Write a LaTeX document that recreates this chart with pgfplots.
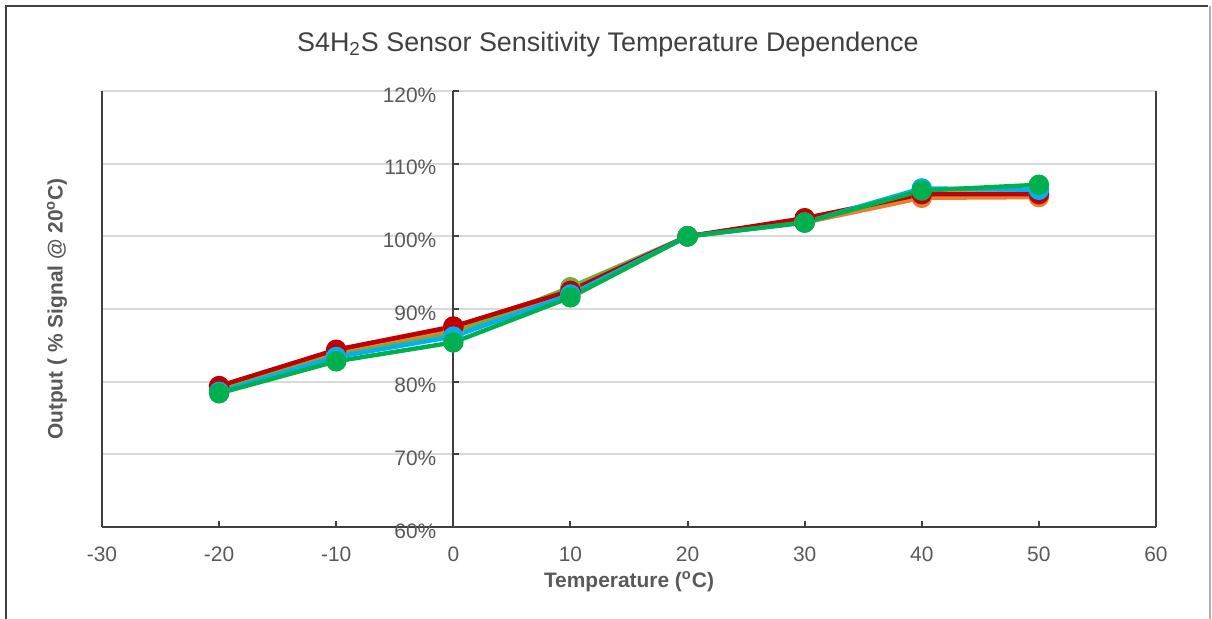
\documentclass[border=0pt]{standalone}
\usepackage{fontspec}
\setmainfont{Liberation Sans}
\usepackage{pgfplots}
\pgfplotsset{compat=1.18}

\definecolor{sred}{HTML}{C00000}
\definecolor{sbrown}{HTML}{9E480E}
\definecolor{sorange}{HTML}{ED7D31}
\definecolor{solive}{HTML}{70AD47}
\definecolor{sblue}{HTML}{00B0F0}
\definecolor{sgreen}{HTML}{00B050}
\definecolor{txt}{HTML}{595959}
\definecolor{axl}{HTML}{404040}
\definecolor{gridc}{HTML}{D9D9D9}

\begin{document}
\begin{tikzpicture}
\path[use as bounding box] (-51bp,-46bp) rectangle (555bp,263.5bp);
\begin{axis}[
  at={(0,0)}, anchor=south west,
  scale only axis,
  width=527bp, height=218bp,
  xmin=-30, xmax=60,
  ymin=60, ymax=120,
  clip=false,
  axis x line=bottom,
  axis y line=middle,
  x axis line style={-},
  y axis line style={-},
  axis line style={axl, line width=1bp},
  xtick={-30,-20,...,60},
  xticklabels={-30,-20,-10,0,10,20,30,40,50,60},
  ytick={60,70,...,120},
  yticklabel={\pgfmathprintnumber{\tick}\%},
  /pgf/number format/assume math mode=true,
  hide obscured y ticks=false,
  hide obscured x ticks=false,
  xtick align=inside,
  ytick align=inside,
  major tick length=3bp,
  tick style={axl, line width=1bp},
  ticklabel style={font=\fontsize{10.5}{12}\selectfont, text=txt},
  xticklabel style={yshift=-6.5bp},
  yticklabel style={yshift=-2bp, xshift=-5bp},
  ymajorgrids,
  grid style={gridc, line width=1bp},
  every axis x label/.style={at={(axis description cs:0.5,-0.1216)}, anchor=center, yshift=-1bp},
  every axis y label/.style={at={(axis description cs:-0.0427,0.5)}, anchor=center, rotate=90},
  label style={font=\bfseries\fontsize{10.5}{12}\selectfont, text=txt},
  xlabel={Temperature (\textsuperscript{o}C)},
  ylabel={Output ( \% Signal @ 20\textsuperscript{o}C)},
  title={S4H\textsubscript{2}S Sensor Sensitivity Temperature Dependence},
  title style={at={(axis description cs:0.480,1.080)}, anchor=center, font=\fontsize{13.5}{16}\selectfont, text=axl},
  every axis plot/.append style={line width=2.2bp, mark=*, mark size=4bp},
]

% brown
\addplot[sbrown, mark options={fill=sbrown, draw=sbrown}] coordinates {
  (-20,79.3) (-10,84.3) (0,87.5) (10,92.6) (20,100) (30,102.3) (40,105.8) (50,105.8)
};
% orange
\addplot[sorange, mark options={fill=sorange, draw=sorange}] coordinates {
  (-20,79.0) (-10,83.8) (0,86.9) (10,92.2) (20,100) (30,101.9) (40,105.3) (50,105.4)
};
% olive
\addplot[solive, mark options={fill=solive, draw=solive}] coordinates {
  (-20,78.9) (-10,83.6) (0,86.6) (10,93.0) (20,100) (30,102.1) (40,105.9) (50,105.9)
};
% red
\addplot[sred, mark options={fill=sred, draw=sred}] coordinates {
  (-20,79.4) (-10,84.4) (0,87.6) (10,92.5) (20,100) (30,102.5) (40,105.8) (50,105.8)
};
% blue
\addplot[sblue, mark options={fill=sblue, draw=sblue}] coordinates {
  (-20,78.6) (-10,83.4) (0,86.2) (10,92.0) (20,100) (30,101.9) (40,106.6) (50,106.4)
};
% green
\addplot[sgreen, mark options={fill=sgreen, draw=sgreen}] coordinates {
  (-20,78.4) (-10,82.8) (0,85.4) (10,91.6) (20,100) (30,101.9) (40,106.3) (50,107.1)
};

% box sides
\draw[axl, line width=1bp] (axis cs:-30,60) -- (axis cs:-30,120);
\draw[axl, line width=1bp] (axis cs:60,60) -- (axis cs:60,120);
\end{axis}

% chart area frame
\draw[axl, line width=1.2bp] (-48bp,-60bp) -- (-48bp,260.5bp) -- (553bp,260.5bp);
\draw[black!30, line width=0.8bp] (554bp,260.5bp) -- (554bp,-60bp);
\end{tikzpicture}
\end{document}
